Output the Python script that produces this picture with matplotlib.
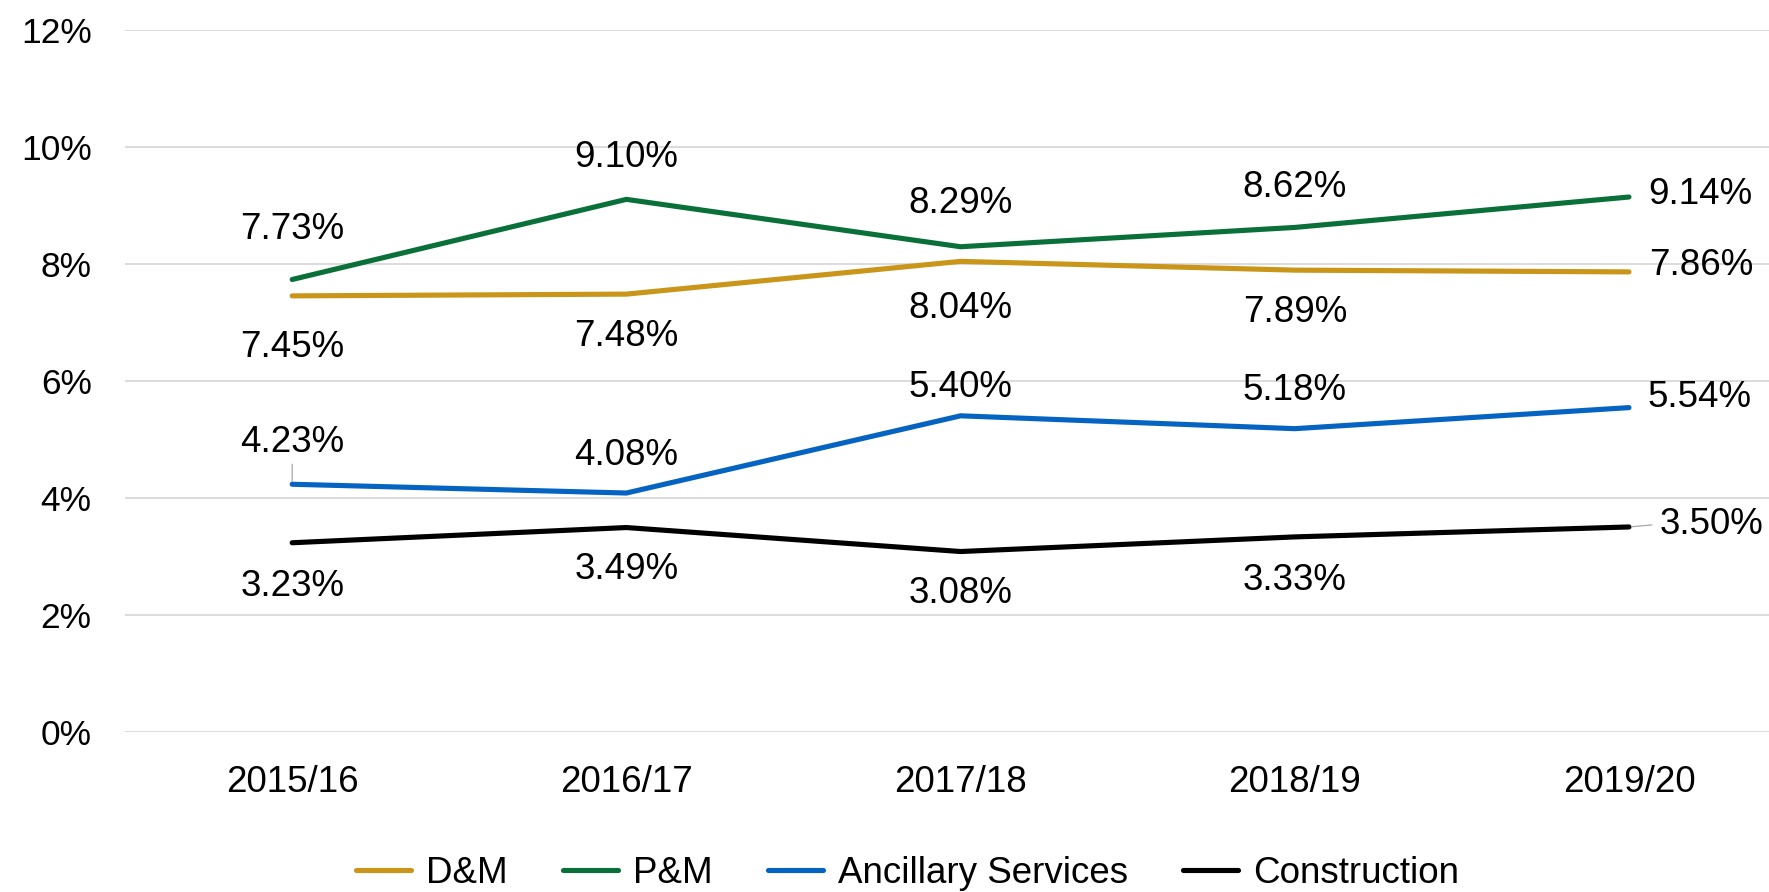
import matplotlib.pyplot as plt
from matplotlib.ticker import FuncFormatter

plt.rcParams['font.family'] = ['Liberation Sans', 'DejaVu Sans']

years = ['2015/16', '2016/17', '2017/18', '2018/19', '2019/20']
series_names = ['D&M', 'P&M', 'Ancillary Services', 'Construction']
dm = [7.45, 7.48, 8.04, 7.89, 7.86]
pm = [7.73, 9.10, 8.29, 8.62, 9.14]
ancillary = [4.23, 4.08, 5.40, 5.18, 5.54]
construction = [3.23, 3.49, 3.08, 3.33, 3.50]
yticks = [0, 2, 4, 6, 8, 10, 12]

colors = ['#C9961A', '#0A703A', '#0563C1', '#000000']

# label offsets in pixels (dx, dy) for each series / year
offsets = [
    [(0, -52), (0, -42), (0, -47), (0, -42), (20, 6)],
    [(0, 50), (0, 42), (0, 43), (0, 40), (19, 3)],
    [(0, 42), (0, 38), (0, 28), (0, 38), (19, 10)],
    [(0, -44), (0, -42), (0, -42), (0, -44), (31, 2)],
]

fig = plt.figure(figsize=(17.69, 8.92), dpi=100)
ax = fig.add_axes([0.0707, 0.1797, 0.9293, 0.787])

x = list(range(len(years)))
all_series = [dm, pm, ancillary, construction]
for vals, name, col, offs in zip(all_series, series_names, colors, offsets):
    ax.plot(x, vals, color=col, lw=3.7, label=name, solid_capstyle='round', zorder=3)
    for i, v in enumerate(vals):
        dx, dy = offs[i]
        ha = 'left' if dx > 0 else 'center'
        ax.annotate(f'{v:.2f}%', (i, v), xytext=(dx, dy), textcoords='offset pixels',
                    ha=ha, va='center', fontsize=26.5, color='black')

# leader lines
ax.annotate('', (0, ancillary[0]), xytext=(0, 20), textcoords='offset pixels',
            arrowprops=dict(arrowstyle='-', color='#A6A6A6', lw=0.9, shrinkA=0, shrinkB=2))
ax.annotate('', (4, construction[4]), xytext=(23, 2), textcoords='offset pixels',
            arrowprops=dict(arrowstyle='-', color='#A6A6A6', lw=0.9, shrinkA=0, shrinkB=2))

ax.set_xlim(-0.5, 4.419)
ax.set_ylim(0, 12)
ax.set_yticks(yticks)
ax.yaxis.set_major_formatter(FuncFormatter(lambda v, p: f'{v:.0f}%'))
ax.set_xticks(x)
ax.set_xticklabels(years)
ax.tick_params(axis='both', length=0)
ax.tick_params(axis='y', pad=24, labelsize=25.5)
ax.tick_params(axis='x', pad=24, labelsize=26.5)
ax.grid(axis='y', color='#D9D9D9', lw=1.3)
ax.set_axisbelow(True)
for s in ax.spines.values():
    s.set_visible(False)

fig.legend(loc='center', bbox_to_anchor=(0.513, 0.021), ncol=4, frameon=False,
           fontsize=26.5, handlelength=1.5, handletextpad=0.4, columnspacing=1.5)

fig.savefig('out.png', dpi=100)
